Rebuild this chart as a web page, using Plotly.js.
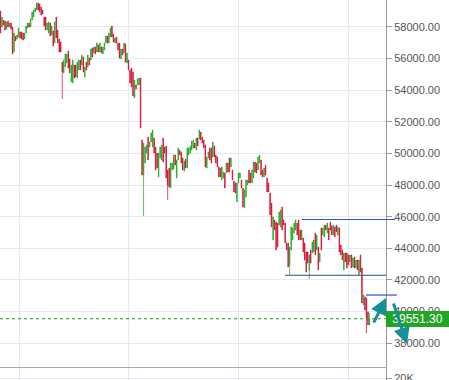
<!DOCTYPE html>
<html>
<head>
<meta charset="utf-8">
<script src="https://cdn.plot.ly/plotly-3.0.1.min.js"></script>
<style>html,body{margin:0;padding:0;background:#fff;}#chart{width:449px;height:380px;}</style>
</head>
<body>
<div id="chart"></div>
<script>
const open = [
58990,57980,58420,58360,57850,58360,57980,58230,57980,56400,
57410,57220,57350,57670,57670,57600,57220,57600,57920,58230,
57980,58420,58610,58930,59050,59500,59430,59240,59050,58610,
58610,57790,57600,58230,57480,57730,56970,58610,57790,57220,
57030,55770,55080,55450,55710,56470,55960,54510,54440,55580,
55580,54760,55270,55900,55580,56090,54820,55770,55450,56020,
55900,56650,56340,56720,56400,56840,56400,56720,56280,56530,
56970,57410,56970,57350,58040,57540,56970,57350,56970,56970,
55960,56590,56340,56910,55710,55900,55270,55390,55140,53500,
54320,54320,54320,54760,50840,48630,49390,50020,51030,50400,
50720,50400,50970,50400,50020,48510,49710,49580,50970,50400,
50460,48950,49070,47810,48950,49010,49900,48440,49580,50210,
50090,49710,48880,49640,49070,49900,50020,50210,50340,50650,
50210,50970,50910,51350,51030,50840,50530,49070,49710,50340,
50340,49770,50460,49900,49770,49140,49070,48320,48440,48760,
48760,49390,49710,49140,48950,48250,48130,46930,48130,48440,
48320,47810,46550,47240,48000,48950,48760,48130,48440,49450,
49390,48950,49390,49580,48950,48510,49260,48440,48130,47490,
46860,44530,45790,45660,45600,45470,45350,46610,45790,45600,
44340,44340,42950,43890,44530,44970,45160,45600,45790,45160,
44530,44650,44340,43770,43770,42630,43890,43700,43770,44970,
43890,44080,43140,45280,44840,44720,45470,44970,45280,45660,
45410,44840,45350,45470,44840,45280,44210,43890,42630,43700,
43700,43580,43140,43580,42820,43450,42760,43260,42320,43580,
42760,40420,40930,40860,39980,39160];
const high = [
58990,58610,58420,58360,58300,58360,58230,58230,57980,57600,
57410,57480,57920,57670,57670,57600,57600,58040,58230,58230,
58490,58930,59050,59180,59500,59500,59430,59240,59050,58610,
58610,58230,58300,58230,58040,57730,58300,58610,57790,57220,
57030,55770,55900,56280,56280,56470,55960,55580,55900,55580,
55580,55770,55900,55900,56210,56090,55450,55770,56210,56020,
56590,56650,56720,56720,56970,56840,56970,56720,56720,56970,
57410,57410,57600,57920,58040,57540,57290,57350,56970,56970,
56590,56590,56970,56910,56340,55900,55270,55390,55140,54630,
54320,54700,54760,54760,50840,50650,50400,50530,51030,50720,
51290,51470,50970,50400,50020,50020,50400,50530,50970,50400,
50460,48950,49070,49390,49390,49900,49900,49580,50340,50210,
50090,49710,49520,49640,50340,50340,50460,50780,50840,50650,
50970,50970,51470,51350,51030,50840,50530,49770,50090,50340,
50340,50720,50460,49900,49770,49140,49070,49140,48820,48760,
49390,49390,49710,49710,48950,48250,48130,48130,48760,48760,
48320,47810,47680,48320,48320,48950,48760,48950,49450,49450,
49390,49770,49900,49580,48950,49070,49260,48440,48130,47490,
46860,45980,45790,45660,45600,46290,46420,46610,45790,45600,
44340,44340,44080,45350,45280,45600,45790,45600,45790,45160,
45160,44650,44340,43770,43770,43580,43890,44400,44530,44970,
44840,44080,43700,45280,45280,45470,45470,45600,45280,45660,
45410,45470,45350,45470,45350,45280,44210,43890,43700,43700,
43700,43580,43580,43580,43390,43450,43260,43260,43260,43580,
42760,41050,40930,40860,39980,39910];
const low = [
57600,57980,58110,57790,57850,57980,57980,57850,56280,56400,
57100,57220,57350,57290,57220,57160,57220,57600,57920,57980,
57980,58420,58610,58930,59050,59050,58930,58740,58800,58040,
57790,57790,57600,57410,57480,56780,56970,57290,56970,56400,
56400,53430,55080,55450,55710,55390,55080,54510,54440,54760,
54820,54760,55270,55270,55580,55140,54820,55270,55450,55580,
55900,56090,56340,56280,56400,56400,56400,56340,56280,56530,
56970,56970,56970,57350,57350,57030,56970,56970,56530,56020,
55960,56210,56340,55770,55710,55270,54440,54190,53620,53500,
54060,54320,54320,51600,48630,46040,49390,50020,49580,50400,
50720,50400,50020,48950,49070,48510,49710,49580,49450,50020,
48440,47050,47870,47810,48950,49010,49260,48440,49580,49900,
49390,48950,48880,49070,49070,49900,50020,50210,50340,50340,
50210,50460,50910,50840,50650,50340,49140,49070,49710,49580,
49390,49770,49770,49390,49140,48510,48510,48320,48440,47810,
48760,48820,48820,49140,48320,47560,47490,46930,48130,48440,
47810,46610,46550,47240,48000,48130,48130,48130,48440,48820,
48760,48950,49390,48630,48510,48510,48630,47560,47560,46110,
45350,44530,45160,43890,44080,45470,45350,45160,45470,44340,
43890,42820,42320,43890,44530,44970,45160,44840,44530,44530,
44530,43770,43260,42500,43070,42060,43070,43700,43770,43580,
43890,42630,43140,43890,44840,44720,45160,44970,44530,45160,
44840,44840,44720,45030,44840,43770,43580,43260,42630,43140,
42760,42950,43140,42760,42820,42760,42760,42630,42320,42500,
40550,40420,40100,38650,39160,39160];
const close = [
57600,58610,58110,57790,58300,57980,58230,57850,56280,57600,
57100,57480,57920,57290,57220,57160,57600,58040,58230,57980,
58490,58930,59050,59180,59500,59050,58930,58740,58800,58040,
57790,58230,58300,57410,58040,56780,58300,57290,56970,56400,
56400,55140,55900,56280,56280,55390,55080,55580,55900,54760,
54820,55770,55900,55270,56210,55140,55450,55270,56210,55580,
56590,56090,56720,56280,56970,56400,56970,56340,56720,56970,
57410,56970,57600,57920,57350,57030,57290,56970,56530,56020,
56590,56210,56970,55770,56340,55270,54440,54190,53620,54630,
54060,54700,54760,51600,48630,50650,50400,50530,49580,50720,
51290,51470,50020,48950,49070,50020,50400,50530,49450,50020,
48440,48000,47870,49390,49390,49900,49260,49580,50340,49900,
49390,48950,49520,49070,50340,50340,50460,50780,50840,50340,
50970,50460,51470,50840,50650,50340,49140,49770,50090,49580,
49390,50720,49770,49390,49140,48510,48510,49140,48820,47810,
49390,48820,48820,49710,48320,47560,47490,48130,48760,48760,
47810,46610,47680,48320,48320,48130,48130,48950,49450,48820,
48760,49770,49900,48630,48510,49070,48630,47560,47560,46110,
45350,45980,45160,43890,44080,46290,46420,45160,45470,44340,
43890,42820,44080,45350,45280,45600,45790,44840,44530,44530,
45160,43770,43260,42500,43070,43580,43070,44400,44530,43580,
44840,42630,43700,43890,45280,45470,45160,45600,44530,45160,
44840,45470,44720,45030,45350,43770,43580,43260,43700,43140,
42760,42950,43580,42760,43390,42760,43260,42630,43260,42500,
40550,41050,40100,39600,39160,39551.3];

// drawn horizontal levels (trend-line tool)
const levelUpper = 45820;
const levelLower = 42300;
const levelShort = 41050;
const lastPrice = close[close.length - 1];
const volTicks = [20000];
const volTickText = ['20K'];
const gridIdx = [12.3, 85.3, 158.3, 231.3];

const idx = open.map((_, i) => i);
const RED = '#d3072b', GREEN = '#17a81b', GRID = '#e3eaf1';
const xr = [-0.33, 255.97];

const traces = [
  {
    type: 'candlestick', x: idx, open: open, high: high, low: low, close: close,
    xaxis: 'x', yaxis: 'y',
    increasing: {line: {color: GREEN, width: 0.7}, fillcolor: GREEN},
    decreasing: {line: {color: RED, width: 0.7}, fillcolor: RED},
    whiskerwidth: 0, hoverinfo: 'skip', showlegend: false
  },
  {type: 'scatter', x: [0], y: [-10000], mode: 'markers', marker: {opacity: 0, size: 1},
   xaxis: 'x2', yaxis: 'y2', showlegend: false, hoverinfo: 'skip', cliponaxis: true}
];

const teal = '#168f99';
const layout = {
  width: 449, height: 380,
  margin: {l: 0, r: 63, t: 0, b: 0, pad: 0},
  paper_bgcolor: '#ffffff', plot_bgcolor: '#ffffff',
  showlegend: false,
  boxgap: 0.5,
  font: {family: 'Arial, "Liberation Sans", sans-serif', size: 11, color: '#555'},
  xaxis: {
    domain: [0, 1], anchor: 'y', range: xr, rangeslider: {visible: false},
    tickvals: gridIdx, showticklabels: false, ticks: '',
    showgrid: true, gridcolor: GRID, gridwidth: 1, zeroline: false,
    showline: true, linecolor: '#aaaaaa', linewidth: 1
  },
  yaxis: {
    domain: [13/380, 1], anchor: 'x', range: [36503, 59687], side: 'right',
    tick0: 0, dtick: 2000, tickformat: '.2f',
    showgrid: true, gridcolor: GRID, gridwidth: 1, zeroline: false,
    showline: true, linecolor: '#9a9a9a', linewidth: 1,
    ticks: 'outside', ticklen: 5, tickcolor: '#9a9a9a',
    tickfont: {size: 11, color: '#555'}
  },
  xaxis2: {
    domain: [0, 1], anchor: 'y2', range: xr,
    tickvals: gridIdx, showticklabels: false, ticks: '',
    showgrid: true, gridcolor: GRID, zeroline: false, showline: false
  },
  yaxis2: {
    domain: [0, 12/380], anchor: 'x2', range: [0, 120000], side: 'right',
    tickvals: volTicks, ticktext: volTickText, ticklabeloverflow: 'allow',
    showgrid: true, gridcolor: GRID, zeroline: false,
    showline: true, linecolor: '#9a9a9a', linewidth: 1,
    ticks: 'outside', ticklen: 5, tickcolor: '#9a9a9a',
    tickfont: {size: 11, color: '#555'}
  },
  shapes: [
    {type: 'line', xref: 'paper', yref: 'y', x0: 0, x1: 1, y0: lastPrice, y1: lastPrice,
     line: {color: '#1a9a1a', width: 1, dash: 'dot'}, layer: 'above'},
    {type: 'line', xref: 'paper', yref: 'y', x0: 302/386, x1: 395/386, y0: levelUpper, y1: levelUpper,
     line: {color: '#2d55d0', width: 1.2}, layer: 'above'},
    {type: 'line', xref: 'paper', yref: 'y', x0: 285/386, x1: 1, y0: levelLower, y1: levelLower,
     line: {color: '#33468f', width: 1.2}, layer: 'above'},
    {type: 'line', xref: 'paper', yref: 'y', x0: 366/386, x1: 397/386, y0: levelShort, y1: levelShort,
     line: {color: '#2d55d0', width: 1.2}, layer: 'above'}
  ],
  annotations: [
    {xref: 'paper', yref: 'y', x: 1, y: lastPrice, xanchor: 'left', yanchor: 'middle',
     text: lastPrice.toFixed(2), showarrow: false, bgcolor: '#22a524',
     font: {size: 12, color: '#ffffff', family: 'Arial, "Liberation Sans", sans-serif'},
     width: 61, height: 14, borderpad: 1, borderwidth: 0, align: 'center'},
    {xref: 'paper', yref: 'paper', x: 386/386, y: 1 - 298/380, ax: -13, ay: 26,
     text: '', showarrow: true, arrowhead: 2, arrowsize: 1.1, arrowwidth: 3, arrowcolor: teal, standoff: 0},
    {xref: 'paper', yref: 'paper', x: 407/386, y: 1 - 344/380, ax: -14, ay: -42,
     text: '', showarrow: true, arrowhead: 2, arrowsize: 1.1, arrowwidth: 3, arrowcolor: teal, standoff: 0}
  ]
};

Plotly.newPlot('chart', traces, layout, {displayModeBar: false, staticPlot: true});
</script>
</body>
</html>
